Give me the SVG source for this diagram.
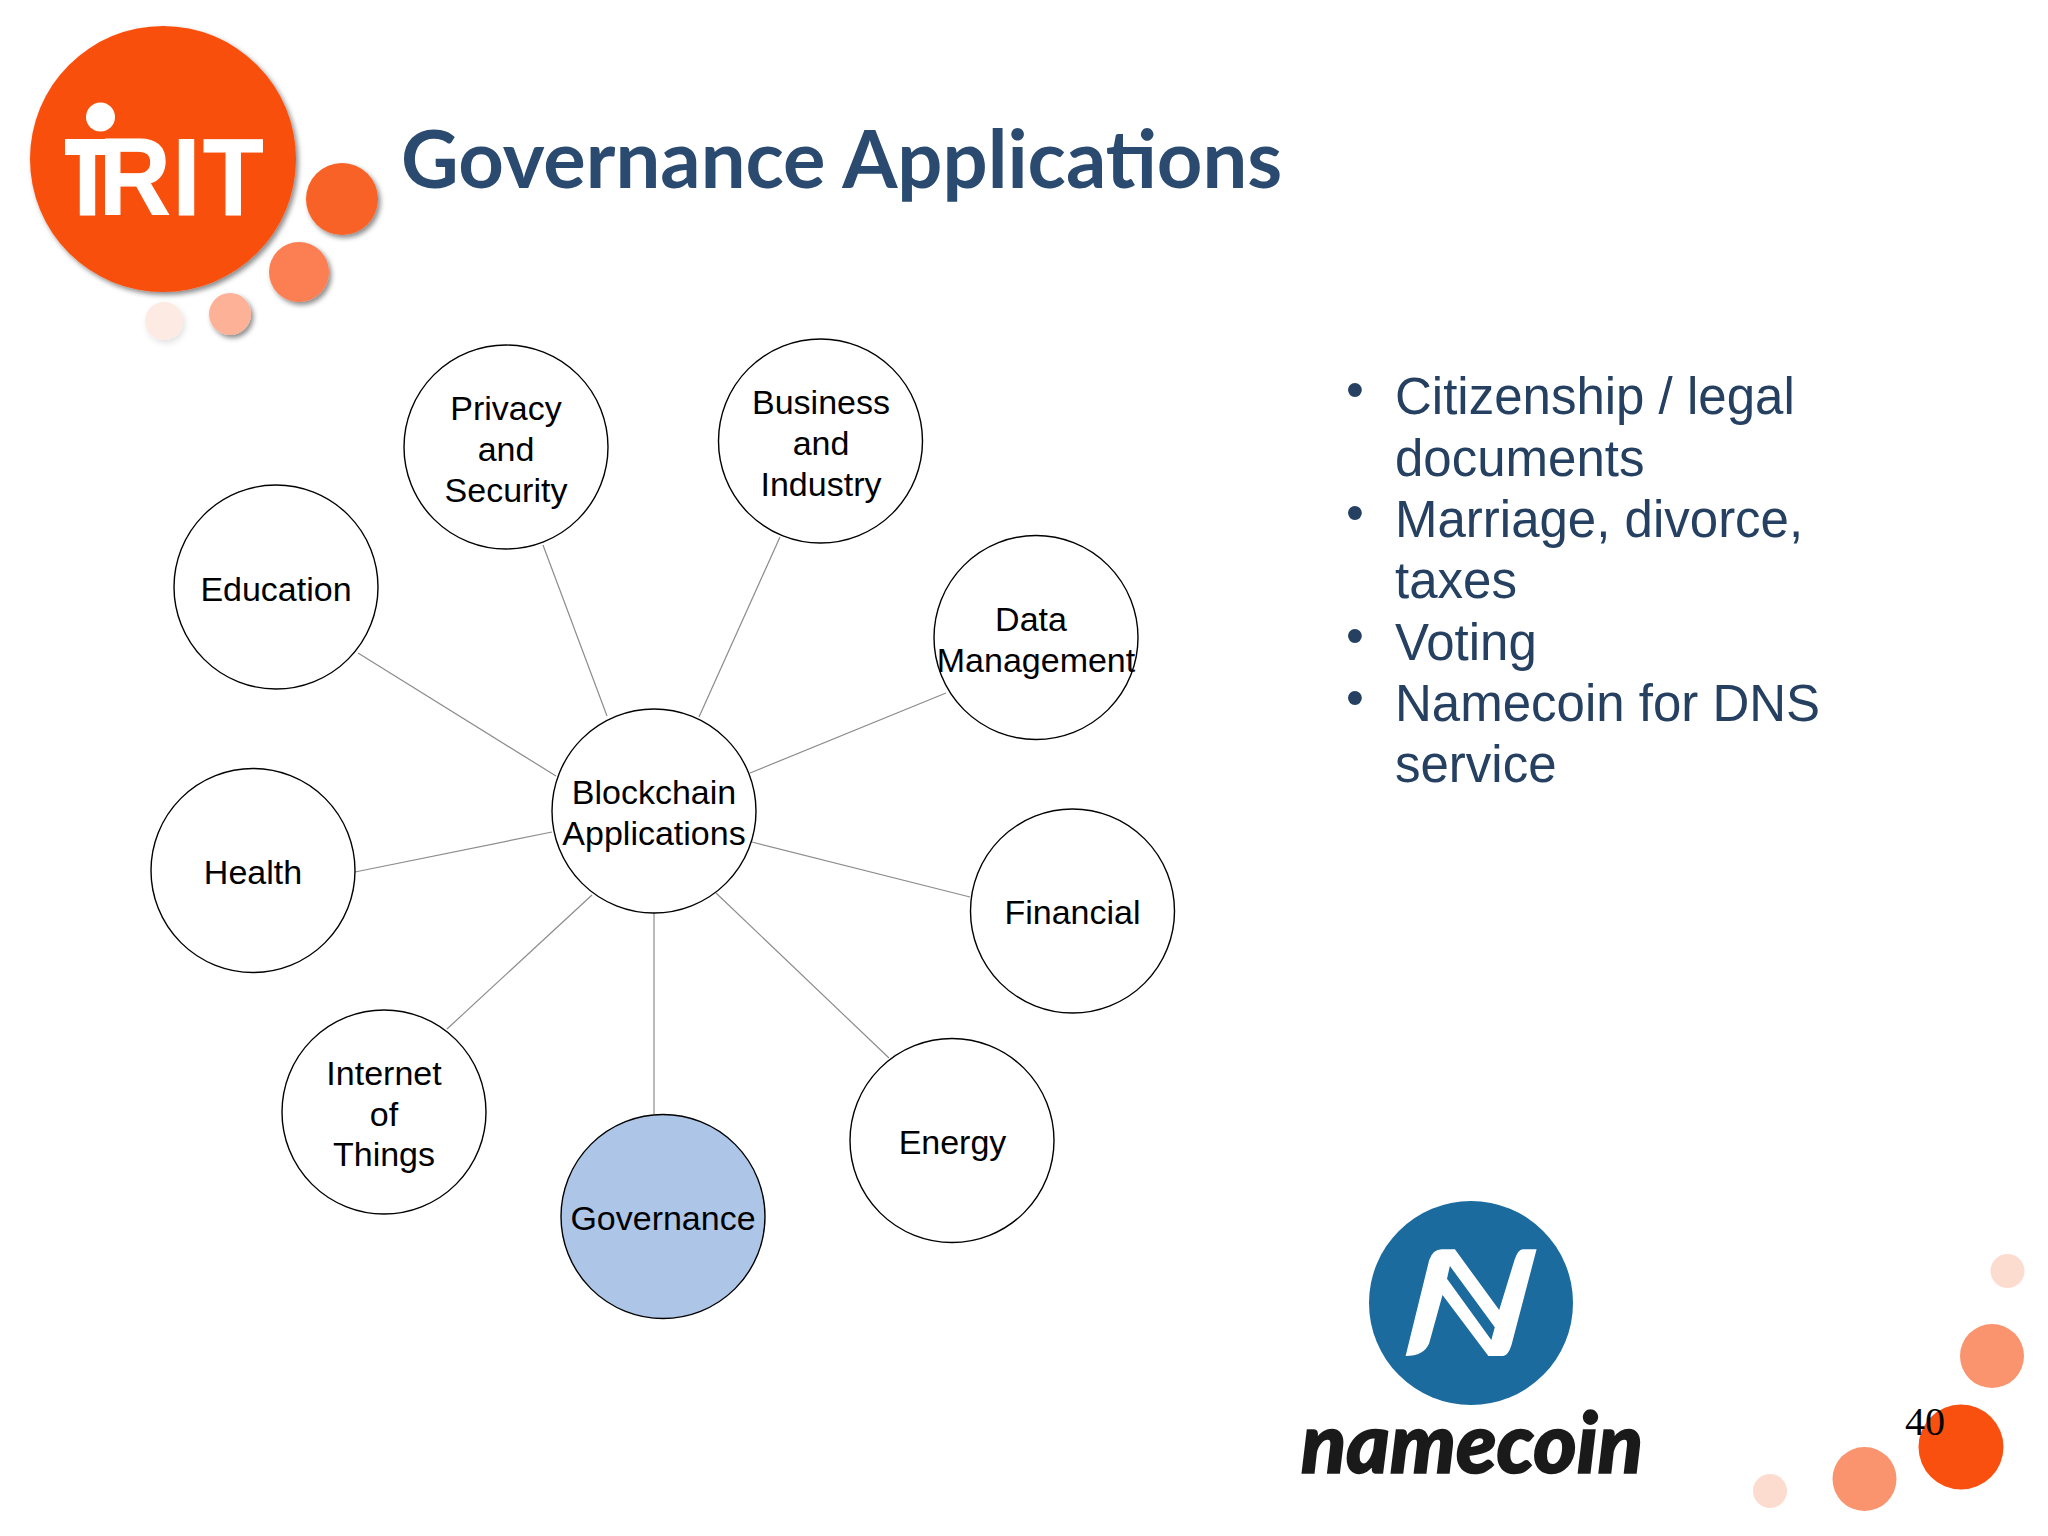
<svg xmlns="http://www.w3.org/2000/svg" width="2048" height="1536" viewBox="0 0 2048 1536">
<style>
.n{fill:#fff;stroke:#000;stroke-width:1.4}
.l{font-family:"Liberation Sans",Arial,sans-serif;font-size:34px;fill:#000;text-anchor:middle}
.b{font-family:"Liberation Sans",Arial,sans-serif;font-size:51px;fill:#254061}
.c line{stroke:#8c8c8c;stroke-width:1.2}
</style>
<defs>
<filter id="s" x="-20%" y="-20%" width="150%" height="150%"><feDropShadow dx="2.5" dy="3" stdDeviation="2.5" flood-color="#000" flood-opacity=".45"/></filter>
<filter id="s2" x="-30%" y="-30%" width="170%" height="170%"><feDropShadow dx="2" dy="3" stdDeviation="3" flood-color="#000" flood-opacity=".12"/></filter>
</defs>
<rect width="2048" height="1536" fill="#fff"/>
<g id="irit-logo">
<circle cx="163" cy="159" r="133" fill="#f9500f" filter="url(#s)"/>
<circle cx="342" cy="199" r="36" fill="#f86227" filter="url(#s)"/>
<circle cx="299" cy="272" r="30" fill="#fb7f52" filter="url(#s)"/>
<circle cx="230" cy="314" r="21" fill="#fdb297" filter="url(#s)"/>
<circle cx="164" cy="321" r="19" fill="#fdeae3" filter="url(#s2)"/>
<circle cx="100.5" cy="117" r="14.5" fill="#fff"/>
<rect x="65" y="139" width="45" height="16" fill="#fff"/>
<text transform="scale(.9 1)" x="82 110 192 225.5" y="215" font-family="Liberation Sans, Arial, sans-serif" font-weight="700" font-size="110" fill="#fff" stroke="#fff" stroke-width="1.2">IRIT</text>
</g>
<text id="title" x="401" y="187.5" font-family="Lato, Carlito, sans-serif" font-weight="700" font-size="79.5" fill="#2a4a70">Governance Applications</text>
<g id="connectors" class="c">
<line x1="543" y1="545" x2="607" y2="716"/>
<line x1="780" y1="537" x2="699" y2="717"/>
<line x1="946" y1="693" x2="750" y2="773"/>
<line x1="970" y1="897" x2="752" y2="842"/>
<line x1="889" y1="1058" x2="716" y2="893"/>
<line x1="654" y1="1114" x2="654" y2="913"/>
<line x1="447" y1="1029" x2="592" y2="895"/>
<line x1="355" y1="872" x2="552" y2="832"/>
<line x1="358" y1="653" x2="556" y2="776"/>
</g>
<g id="node-blockchain"><circle class="n" cx="654" cy="811" r="102"/><text class="l" x="654" y="804">Blockchain</text><text class="l" x="654" y="845">Applications</text></g>
<g id="node-privacy"><circle class="n" cx="506" cy="447" r="102"/><text class="l" x="506" y="420">Privacy</text><text class="l" x="506" y="461">and</text><text class="l" x="506" y="502">Security</text></g>
<g id="node-business"><circle class="n" cx="820.5" cy="441" r="102"/><text class="l" x="821" y="414">Business</text><text class="l" x="821" y="455">and</text><text class="l" x="821" y="496">Industry</text></g>
<g id="node-data"><circle class="n" cx="1036" cy="637.5" r="102"/><text class="l" x="1031" y="631">Data</text><text class="l" x="1036" y="672">Management</text></g>
<g id="node-financial"><circle class="n" cx="1072.5" cy="911" r="102"/><text class="l" x="1072.5" y="924">Financial</text></g>
<g id="node-energy"><circle class="n" cx="952" cy="1140.5" r="102"/><text class="l" x="952.5" y="1154">Energy</text></g>
<g id="node-governance"><circle class="n" cx="663" cy="1216.5" r="102" style="fill:#adc5e7"/><text class="l" x="663" y="1230">Governance</text></g>
<g id="node-iot"><circle class="n" cx="384" cy="1112" r="102"/><text class="l" x="384" y="1085">Internet</text><text class="l" x="384" y="1126">of</text><text class="l" x="384" y="1166">Things</text></g>
<g id="node-health"><circle class="n" cx="253" cy="870.5" r="102"/><text class="l" x="253" y="884">Health</text></g>
<g id="node-education"><circle class="n" cx="276" cy="587" r="102"/><text class="l" x="276" y="601">Education</text></g>
<g id="bullets">
<text class="b" x="1346" y="407">•</text><text class="b" x="1395" y="414">Citizenship / legal</text>
<text class="b" x="1395" y="475.5">documents</text>
<text class="b" x="1346" y="530">•</text><text class="b" x="1395" y="537">Marriage, divorce,</text>
<text class="b" x="1395" y="598">taxes</text>
<text class="b" x="1346" y="653">•</text><text class="b" x="1395" y="659.5">Voting</text>
<text class="b" x="1346" y="715">•</text><text class="b" x="1395" y="721">Namecoin for DNS</text>
<text class="b" x="1395" y="782">service</text>
</g>
<g id="namecoin-logo">
<circle cx="1471" cy="1303" r="102" fill="#1b6b9f"/>
<path transform="translate(-1 0)" fill="#fff" fill-rule="evenodd" d="M1406.6 1356L1430.2 1260Q1434 1249.3 1442.6 1249.3H1455.9L1500.2 1310L1515.5 1260Q1519 1249.3 1523.8 1249.3H1537.6L1512.5 1345Q1509 1356 1504.1 1356H1489.4L1443.5 1295L1430.2 1343.3Q1425 1356 1406.6 1356ZM1450.9 1266L1448 1278.7L1492.3 1340L1495.8 1327.3Z"/>
<text x="1301" y="1473" font-family="Lato, sans-serif" font-weight="900" font-style="italic" font-size="84" fill="#1a1a1a" stroke="#1a1a1a" stroke-width="1.6" textLength="342" lengthAdjust="spacingAndGlyphs">namecoin</text>
</g>
<g id="corner-dots">
<circle cx="2007.5" cy="1271" r="17" fill="#fcdccf"/>
<circle cx="1992" cy="1356" r="32" fill="#fa946f"/>
<circle cx="1961" cy="1447" r="42.5" fill="#f9500f"/>
<circle cx="1864.5" cy="1479" r="32" fill="#fa946f"/>
<circle cx="1770" cy="1491" r="17" fill="#fcdccf"/>
</g>
<text id="page-number" x="1905" y="1435" font-family="Liberation Serif, serif" font-size="40" fill="#000">40</text>
</svg>
